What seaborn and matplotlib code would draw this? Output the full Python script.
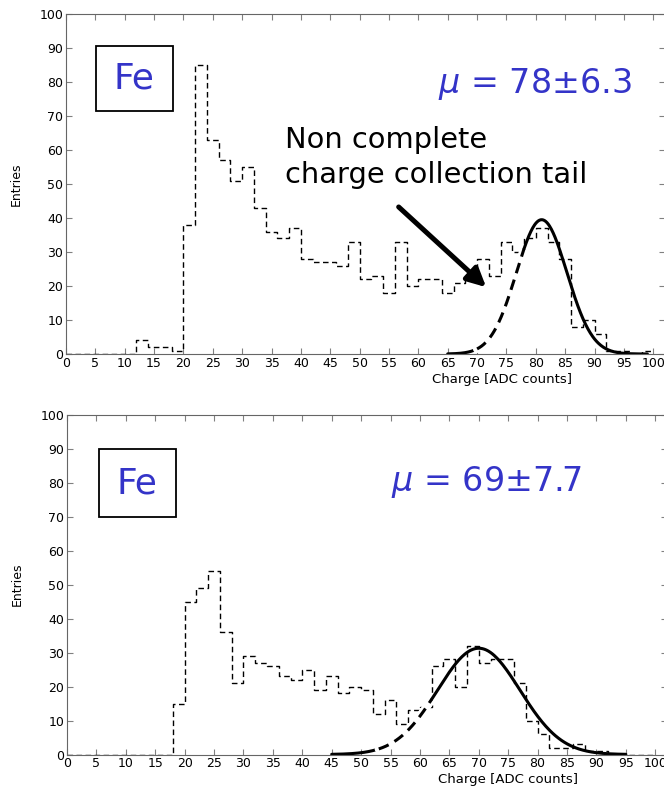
import numpy as np
import pandas as pd
import seaborn as sns
import matplotlib.pyplot as plt
from matplotlib.patches import Rectangle

# Bordas dos bins (largura 2) e contagens
bordas = np.arange(0, 102, 2)
contagem_cima = [0, 0, 0, 0, 0, 0, 4, 2, 2, 1,
                 38, 85, 63, 57, 51, 55, 43, 36, 34, 37,
                 28, 27, 27, 26, 33, 22, 23, 18, 33, 20,
                 22, 22, 18, 21, 22, 28, 23, 33, 30, 34,
                 37, 33, 28, 8, 10, 6, 1, 1, 0, 1]
contagem_baixo = [0, 0, 0, 0, 0, 0, 0, 0, 0, 15,
                  45, 49, 54, 36, 21, 29, 27, 26, 23, 22,
                  25, 19, 23, 18, 20, 19, 12, 16, 9, 13,
                  14, 26, 28, 20, 32, 27, 28, 28, 21, 10,
                  6, 2, 2, 3, 1, 1, 0, 0, 0, 0]

# Parametros do ajuste gaussiano (amplitude, media, sigma)
ajuste_cima = (39.5, 81.0, 4.3)
ajuste_baixo = (31.3, 70.0, 7.0)

# Trechos da curva: (inicio, fim, tracejado?)
trechos_cima = [(65, 70, False), (70, 78, True), (78, 99, False)]
trechos_baixo = [(45, 53, False), (53, 62, True), (62, 95, False)]

textos_mu = ["$\\mu$ = 78\u00b16.3", "$\\mu$ = 69\u00b17.7"]
rotulo_x = "Charge [ADC counts]"
rotulo_y = "Entries"
AZUL = "#3434c8"

sns.set_style("ticks")
plt.rcParams['font.family'] = ['DejaVu Sans']
plt.rcParams['text.color'] = 'black'
plt.rcParams['axes.labelcolor'] = 'black'


def gauss(x, amp, media, sigma):
    return amp * np.exp(-0.5 * ((x - media) / sigma) ** 2)


def desenhar_painel(ax, contagem, ajuste, trechos, texto_mu, pos_mu, caixa, rotulo_xpos):
    df = pd.DataFrame({'centro': bordas[:-1] + 1.0, 'n': np.array(contagem, dtype=float)})
    sns.histplot(data=df, x='centro', weights='n', binwidth=2, binrange=(0, 100),
                 element='step', fill=False, color='black',
                 linestyle=(0, (4, 2.5)), linewidth=1.0, ax=ax)

    for ini, fim, tracejado in trechos:
        xs = np.linspace(ini, fim, 200)
        ys = gauss(xs, *ajuste)
        if tracejado:
            sns.lineplot(x=xs, y=ys, ax=ax, color='white', linewidth=6, sort=False)
            sns.lineplot(x=xs, y=ys, ax=ax, color='black', linewidth=2.2,
                         linestyle=(0, (3.5, 2.2)), sort=False)
        else:
            sns.lineplot(x=xs, y=ys, ax=ax, color='black', linewidth=2.2, sort=False)

    ax.set_xlim(0, 102)
    ax.set_ylim(0, 100)
    ax.set_xticks(np.arange(0, 101, 5))
    ax.set_yticks(np.arange(0, 101, 10))
    ax.tick_params(direction='in', top=True, right=True, length=4, width=0.8,
                   color='#808080', labelcolor='black', labelsize=9, pad=2)
    for s in ax.spines.values():
        s.set_color('#666666')
        s.set_linewidth(0.8)

    ax.set_ylabel(rotulo_y, fontsize=9)
    ax.yaxis.set_label_coords(-0.072, 0.5)
    ax.set_xlabel(rotulo_x, fontsize=9.5)
    ax.xaxis.set_label_coords(rotulo_xpos, -0.055)

    # Caixa com "Fe"
    x0, y0, w, h = caixa
    ax.add_patch(Rectangle((x0, y0), w, h, fill=False, edgecolor='black', linewidth=1.3))
    ax.text(x0 + w / 2, y0 + h / 2, "Fe", color=AZUL, fontsize=26, ha='center', va='center')

    ax.text(pos_mu[0], pos_mu[1], texto_mu, color=AZUL, fontsize=24, ha='right', va='center')


fig = plt.figure(figsize=(6.64, 7.90), dpi=100)
ax_cima = fig.add_axes([66 / 664, 1 - 354 / 790, 599 / 664, 340 / 790])
ax_baixo = fig.add_axes([67 / 664, 1 - 754.5 / 790, 600 / 664, 339.5 / 790])

desenhar_painel(ax_cima, contagem_cima, ajuste_cima, trechos_cima, textos_mu[0],
                (96.4, 79.5), (5.1, 71.5, 13.1, 19.1), 0.728)
desenhar_painel(ax_baixo, contagem_baixo, ajuste_baixo, trechos_baixo, textos_mu[1],
                (87.6, 80.4), (5.4, 69.9, 13.1, 20.0), 0.735)

# Anotacao da cauda
ax_cima.text(37.3, 60.6, "Non complete", fontsize=20.8, ha='left', va='baseline')
ax_cima.text(37.3, 50.3, "charge collection tail", fontsize=20.8, ha='left', va='baseline')
ax_cima.annotate('', xy=(71.9, 19.1), xytext=(56.3, 43.8),
                 arrowprops=dict(arrowstyle='-|>', lw=3.6, color='black', mutation_scale=28))

fig.savefig('out.png', dpi=100)
